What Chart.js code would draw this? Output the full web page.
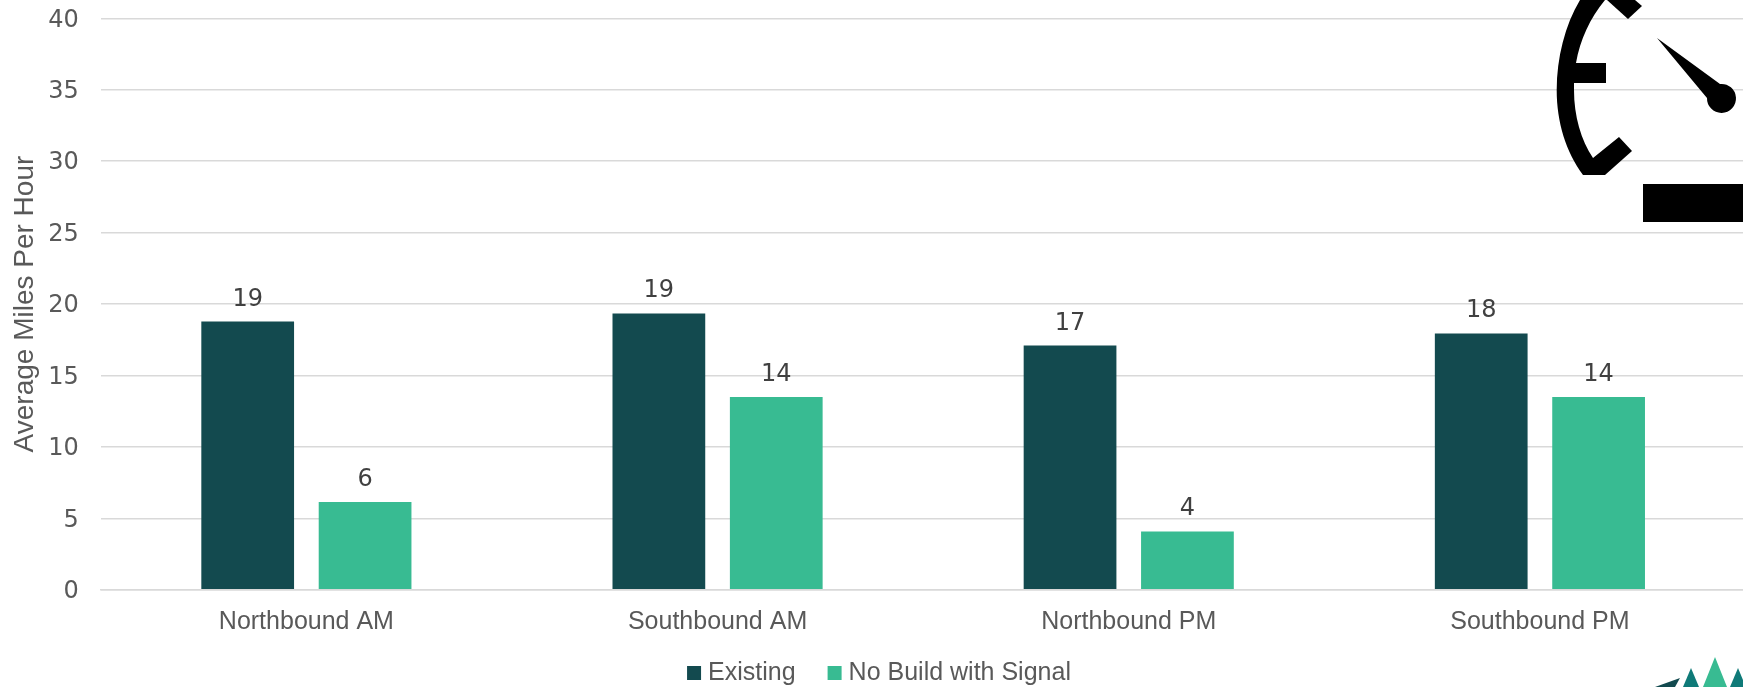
<!DOCTYPE html>
<html>
<head>
<meta charset="utf-8">
<style>
  html, body { margin: 0; padding: 0; background: #fff; overflow: hidden; width: 1743px; height: 687px; }
  #wrap { position: relative; width: 1764px; height: 687px; }
  #speed { display: block; }
  #art { position: absolute; left: 0; top: 0; pointer-events: none; }
</style>
<script src="https://cdn.jsdelivr.net/npm/chart.js@4/dist/chart.umd.min.js"></script>
</head>
<body>
<div id="wrap">
  <canvas id="speed" width="1764" height="687"></canvas>
  <svg id="art" width="1743" height="687" viewBox="0 0 1743 687">
    <!-- speedometer icon -->
    <path fill="#000" d="M1580 0 C1565 25 1556.7 58 1556.7 90 C1556.7 122 1566 152 1583 175 L1605 175 L1632 151 L1619 137 L1593 158 C1581 140 1574 116 1574 90 L1574 83 L1606 83 L1606 63 L1576 63 C1580 40 1590 18 1605 0 Z"/>
    <path fill="#000" d="M1607 0 L1628 19 L1642 6 L1635 0 Z"/>
    <path fill="#000" d="M1657 38 L1720 84 A14.5 14.5 0 1 1 1707 98 Z"/>
    <rect x="1643" y="184" width="100" height="38" fill="#000"/>
    <!-- logo peeking in at the corner -->
    <path fill="#134a4f" d="M1655 687 L1680 678 L1675 687 Z"/>
    <path fill="#0f7a78" d="M1683 687 L1691 668 L1699 687 Z"/>
    <path fill="#38bb92" d="M1703 687 L1715 657 L1727 687 Z"/>
    <path fill="#0f7a78" d="M1730 687 L1738 668 L1743 680 L1743 687 Z"/>
  </svg>
</div>
<script>
const categories = ['Northbound AM', 'Southbound AM', 'Northbound PM', 'Southbound PM'];
const existing = [18.77, 19.34, 17.09, 17.94];
const noBuildWithSignal = [6.14, 13.5, 4.08, 13.5];
const seriesNames = ['Existing', 'No Build with Signal'];
const seriesColors = ['#134a4f', '#38bb92'];
const yTicks = [0, 5, 10, 15, 20, 25, 30, 35, 40];

const numberFont = '"DejaVu Sans", sans-serif';
const textFont = '"Liberation Sans", sans-serif';

// Writes the rounded value above each bar.
const barValues = {
  id: 'barValues',
  afterDatasetsDraw(chart) {
    const ctx = chart.ctx;
    ctx.save();
    ctx.font = '24px ' + numberFont;
    ctx.fillStyle = '#404040';
    ctx.textAlign = 'center';
    ctx.textBaseline = 'alphabetic';
    chart.data.datasets.forEach((ds, i) => {
      chart.getDatasetMeta(i).data.forEach((bar, j) => {
        ctx.fillText(Math.round(ds.data[j]), bar.x, bar.y - 16);
      });
    });
    ctx.restore();
  }
};

// The legend's label padding also drives its horizontal spacing, so its row is placed after layout.
const legendRow = {
  id: 'legendRow',
  afterLayout(chart) {
    chart.legend.top = 623;
    chart.legend.left += 9;
    chart.legend.right += 9;
  }
};

new Chart(document.getElementById('speed'), {
  type: 'bar',
  data: {
    labels: categories,
    datasets: [
      { label: seriesNames[0], data: existing, backgroundColor: seriesColors[0] },
      { label: seriesNames[1], data: noBuildWithSignal, backgroundColor: seriesColors[1] }
    ]
  },
  options: {
    responsive: false,
    animation: false,
    devicePixelRatio: 1,
    layout: { padding: { top: 0, right: 18.5, left: 0, bottom: 0 } },
    datasets: { bar: { categoryPercentage: 0.571, barPercentage: 0.79 } },
    plugins: {
      tooltip: { enabled: false },
      legend: {
        position: 'bottom',
        maxHeight: 10,
        labels: {
          usePointStyle: true,
          pointStyle: 'rect',
          boxWidth: 3,
          boxHeight: 14,
          padding: 37.5,
          color: '#595959',
          font: { family: textFont, size: 25 }
        }
      }
    },
    scales: {
      x: {
        afterFit(scale) { scale.height = 87.3; },
        grid: { display: false },
        border: { color: '#d9d9d9', width: 1.5 },
        ticks: { color: '#595959', font: { family: textFont, size: 25 }, padding: 9, maxRotation: 0 }
      },
      y: {
        min: 0,
        max: 40,
        afterFit(scale) { scale.width = 100.8; },
        afterBuildTicks(scale) { scale.ticks = yTicks.map(v => ({ value: v })); },
        grid: { color: '#d9d9d9', lineWidth: 1.5, tickLength: 18, tickColor: 'rgba(0,0,0,0)' },
        border: { display: false },
        ticks: { color: '#595959', font: { family: numberFont, size: 24 }, padding: 4, labelOffset: 2 },
        title: {
          display: true,
          text: 'Average Miles Per Hour',
          color: '#595959',
          font: { family: textFont, size: 28 },
          padding: { top: 8, bottom: 0 }
        }
      }
    }
  },
  plugins: [barValues, legendRow]
});
</script>
</body>
</html>
